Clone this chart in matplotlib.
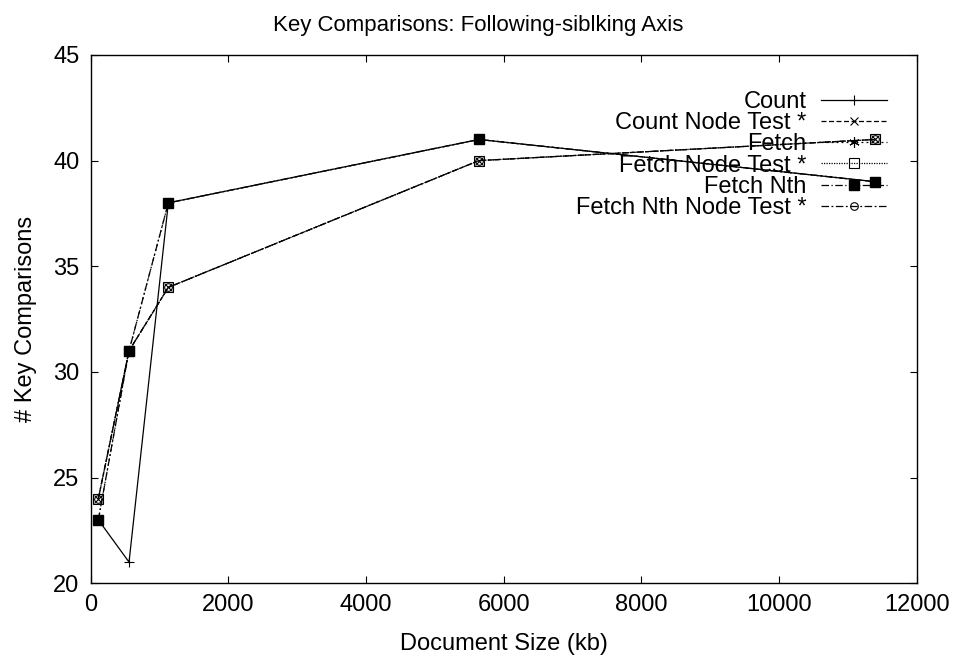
import matplotlib
matplotlib.use("Agg")
import matplotlib.pyplot as plt

plt.rcParams['font.family'] = ['Liberation Sans', 'DejaVu Sans']

# document sizes (kb) and key comparison counts per method
doc_size = [113, 559, 1130, 5640, 11400]
count = [23, 21, 38, 41, 39]
count_node_test = [24, 31, 34, 40, 41]
fetch = [23, 31, 38, 41, 39]
fetch_node_test = [24, 31, 34, 40, 41]
fetch_nth = [23, 31, 38, 41, 39]
fetch_nth_node_test = [24, 31, 34, 40, 41]

fig = plt.figure(figsize=(9.56, 6.62), dpi=100)
ax = fig.add_axes([0.0947, 0.119, 0.8643, 0.798])

lw = 0.9
ax.plot(doc_size, count, color='black', lw=lw, ls='-', marker='+', ms=7.5,
        mew=0.8, label='Count')
ax.plot(doc_size, count_node_test, color='black', lw=lw, ls=(0, (4, 2)),
        marker='x', ms=6, mew=0.8, label='Count Node Test *')
ax.plot(doc_size, fetch, color='black', lw=lw, ls=(0, (1.5, 2.5)),
        marker=(6, 2, 0), ms=7.5, mew=0.8, label='Fetch')
ax.plot(doc_size, fetch_node_test, color='black', lw=lw, ls=(0, (1, 1)),
        marker='s', ms=6.8, mfc='none', mew=0.8, label='Fetch Node Test *')
ax.plot(doc_size, fetch_nth, color='black', lw=lw, ls=(0, (6, 2, 1, 2)),
        marker='s', ms=6.5, mfc='black', label='Fetch Nth')
ax.plot(doc_size, fetch_nth_node_test, color='black', lw=lw,
        ls=(0, (6, 2, 1.5, 2)), marker='o', ms=5.5, mfc='none', mew=0.8,
        label='Fetch Nth Node Test *')

ax.set_xlim(0, 12000)
ax.set_ylim(20, 45)
ax.set_xticks(range(0, 12001, 2000))
ax.set_yticks(range(20, 46, 5))
ax.tick_params(direction='in', length=5, width=0.8, top=True, right=True,
               labelsize=17, pad=8)
for s in ax.spines.values():
    s.set_linewidth(1.0)

ax.set_xlabel('Document Size (kb)', fontsize=17, labelpad=12)
ax.set_ylabel('# Key Comparisons', fontsize=17, labelpad=12)
fig.suptitle('Key Comparisons: Following-siblking Axis', fontsize=16, y=0.978)

ax.legend(loc='upper right', frameon=False, markerfirst=False, fontsize=17,
          handlelength=2.8, handletextpad=0.6, labelspacing=-0.03,
          borderaxespad=0.0, bbox_to_anchor=(0.975, 0.95))

fig.savefig('out.png', dpi=100)
